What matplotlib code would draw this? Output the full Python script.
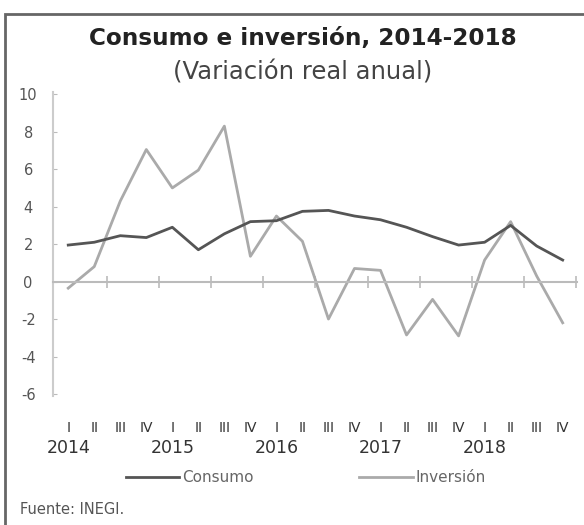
import matplotlib.pyplot as plt
import matplotlib.transforms as mtransforms
from matplotlib.patches import Rectangle

plt.rcParams['axes.unicode_minus'] = False

# Datos trimestrales 2014 I - 2018 IV
trimestres = ['I', 'II', 'III', 'IV'] * 5
anios = ['2014', '2015', '2016', '2017', '2018']
consumo = [1.95, 2.1, 2.45, 2.35, 2.9, 1.7, 2.55, 3.2, 3.25, 3.75,
           3.8, 3.5, 3.3, 2.9, 2.4, 1.95, 2.1, 3.0, 1.9, 1.15]
inversion = [-0.35, 0.8, 4.3, 7.05, 5.0, 5.95, 8.3, 1.35, 3.5, 2.15,
             -2.0, 0.7, 0.6, -2.85, -0.95, -2.9, 1.15, 3.2, 0.3, -2.2]

x = list(range(len(consumo)))

fig = plt.figure(figsize=(5.84, 5.25), dpi=100)
ax = fig.add_axes([0.091, 0.246, 0.897, 0.578])

ax.plot(x, consumo, color='#555555', lw=2.0, label='Consumo', zorder=3)
ax.plot(x, inversion, color='#aaaaaa', lw=2.0, label='Inversión', zorder=2)

ax.set_xlim(-0.58, 19.55)
ax.set_ylim(-6.1, 10.1)
ax.set_yticks(range(-6, 11, 2))
ax.tick_params(axis='y', direction='in', length=3, pad=18, colors='#bbbbbb',
               labelcolor='#555555', labelsize=10.5)
for lab in ax.get_yticklabels():
    lab.set_horizontalalignment('center')

# linea del cero con marcas
ax.spines['bottom'].set_position(('data', 0))
ax.spines['bottom'].set_color('#bbbbbb')
ax.spines['bottom'].set_linewidth(1.5)
ax.spines['left'].set_color('#cccccc')
ax.spines['left'].set_linewidth(1.5)
ax.spines['top'].set_visible(False)
ax.spines['right'].set_visible(False)
ax.set_xticks([i + 1.5 for i in range(0, 20, 2)])
ax.tick_params(axis='x', direction='inout', length=8, width=1.2,
               colors='#bbbbbb', labelbottom=False)

# etiquetas de trimestres y anios
trans = mtransforms.blended_transform_factory(ax.transData, ax.transAxes)
for i, t in enumerate(trimestres):
    ax.text(i, -0.105, t, transform=trans, ha='center', va='center',
            fontsize=10, color='#333333')
for k, a in enumerate(anios):
    ax.text(k * 4, -0.171, a, transform=trans, ha='center', va='center',
            fontsize=12.5, color='#333333')

fig.text(0.518, 0.926, 'Consumo e inversión, 2014-2018', ha='center', va='center',
         fontsize=16.7, fontweight='bold', color='#222222')
fig.text(0.518, 0.862, '(Variación real anual)', ha='center', va='center',
         fontsize=17.5, color='#444444')

fig.legend(loc='center', bbox_to_anchor=(0.524, 0.09), ncol=2, frameon=False,
           fontsize=11, handlelength=3.5, columnspacing=6.9, handletextpad=0.2,
           labelcolor='#666666')

fig.text(0.034, 0.029, 'Fuente: INEGI.', ha='left', va='center', fontsize=10.5,
         color='#555555')

fig.add_artist(Rectangle((0.008, -0.1), 1.2, 1.073, transform=fig.transFigure,
                         fill=False, edgecolor='#666666', lw=2))

fig.savefig('out.png', dpi=100)
